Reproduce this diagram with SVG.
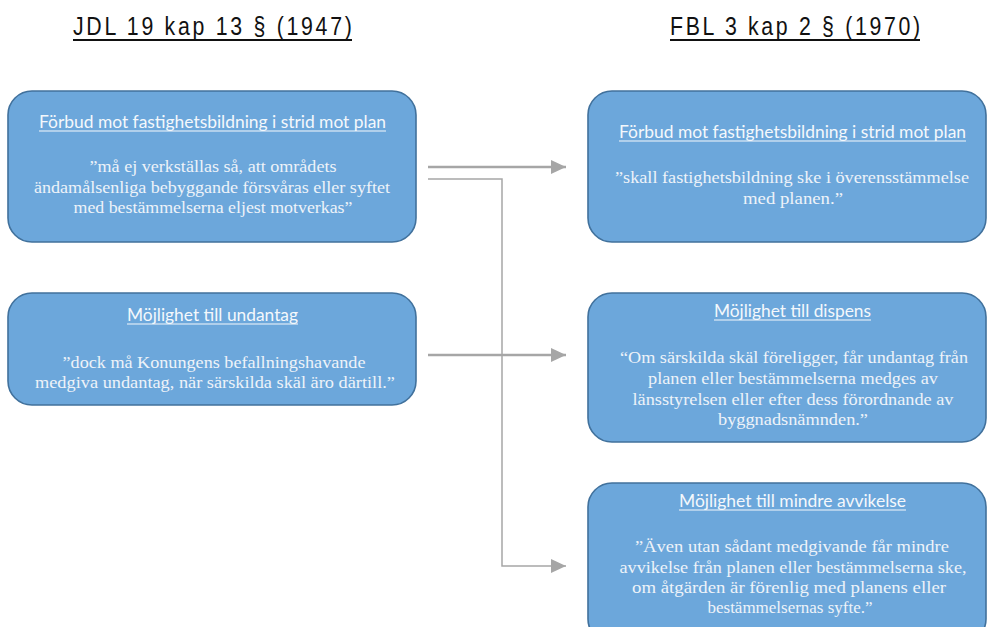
<svg xmlns="http://www.w3.org/2000/svg" width="987" height="627" viewBox="0 0 987 627">
  <style>
    .box { fill: #6ca7db; stroke: #41719c; stroke-width: 1.6; }
    .title { font-family: "Liberation Sans", Arial, sans-serif; font-size: 26px; fill: #111111; }
    .titleline { stroke: #111111; stroke-width: 2; }
    .head { font-family: Lato, "Open Sans", sans-serif; font-size: 17px; fill: #f4f8fc; }
    .headline { stroke: #f4f8fc; stroke-width: 1; }
    .body { font-family: "Liberation Serif", "Times New Roman", serif; font-size: 17px; fill: #eef3f9; text-anchor: middle; }
    .conn { fill: none; stroke: #a6a6a6; }
    .thick { stroke-width: 2.5; }
    .thin { stroke-width: 1.5; }
  </style>
  <defs>
    <marker id="arrow" markerUnits="userSpaceOnUse" markerWidth="15" markerHeight="14" refX="15" refY="7" orient="auto">
      <path d="M0,0 L15,7 L0,14 Z" fill="#a6a6a6"/>
    </marker>
  </defs>

  <rect width="987" height="627" fill="#ffffff"/>

  <!-- column titles -->
  <g id="title-jdl">
    <text class="title" transform="translate(73,35) scale(0.82,1)" textLength="340" lengthAdjust="spacing">JDL 19 kap 13 § (1947)</text>
    <line class="titleline" x1="73" y1="40" x2="352" y2="40"/>
  </g>
  <g id="title-fbl">
    <text class="title" transform="translate(670,35) scale(0.82,1)" textLength="305" lengthAdjust="spacing">FBL 3 kap 2 § (1970)</text>
    <line class="titleline" x1="670" y1="40" x2="920" y2="40"/>
  </g>

  <!-- connectors -->
  <g id="connectors">
    <line class="conn thick" x1="428" y1="167" x2="566" y2="167" marker-end="url(#arrow)"/>
    <line class="conn thick" x1="428" y1="355" x2="566" y2="355" marker-end="url(#arrow)"/>
    <polyline class="conn thin" points="428,179 502,179 502,566 566,566" marker-end="url(#arrow)"/>
  </g>

  <!-- JDL: prohibition -->
  <g id="jdl-forbud">
    <rect class="box" x="8" y="91" width="408" height="151" rx="24"/>
    <text class="head" x="39" y="128" textLength="347" lengthAdjust="spacingAndGlyphs">Förbud mot fastighetsbildning i strid mot plan</text>
    <line class="headline" x1="39" y1="131" x2="386" y2="131"/>
    <text class="body" x="213" y="172" textLength="247" lengthAdjust="spacingAndGlyphs">”må ej verkställas så, att områdets</text>
    <text class="body" x="212" y="193" textLength="356" lengthAdjust="spacingAndGlyphs">ändamålsenliga bebyggande försvåras eller syftet</text>
    <text class="body" x="213" y="213" textLength="279" lengthAdjust="spacingAndGlyphs">med bestämmelserna eljest motverkas”</text>
  </g>

  <!-- JDL: exception -->
  <g id="jdl-undantag">
    <rect class="box" x="8" y="293" width="408" height="112" rx="24"/>
    <text class="head" x="127" y="321" textLength="171" lengthAdjust="spacingAndGlyphs">Möjlighet till undantag</text>
    <line class="headline" x1="127" y1="324" x2="298" y2="324"/>
    <text class="body" x="214" y="368" textLength="303" lengthAdjust="spacingAndGlyphs">”dock må Konungens befallningshavande</text>
    <text class="body" x="215" y="388" textLength="360" lengthAdjust="spacingAndGlyphs">medgiva undantag, när särskilda skäl äro därtill.”</text>
  </g>

  <!-- FBL: prohibition -->
  <g id="fbl-forbud">
    <rect class="box" x="588" y="91" width="398" height="151" rx="24"/>
    <text class="head" x="619" y="138" textLength="347" lengthAdjust="spacingAndGlyphs">Förbud mot fastighetsbildning i strid mot plan</text>
    <line class="headline" x1="619" y1="141" x2="966" y2="141"/>
    <text class="body" x="792" y="183" textLength="354" lengthAdjust="spacingAndGlyphs">”skall fastighetsbildning ske i överensstämmelse</text>
    <text class="body" x="793" y="204" textLength="100" lengthAdjust="spacingAndGlyphs">med planen.”</text>
  </g>

  <!-- FBL: dispensation -->
  <g id="fbl-dispens">
    <rect class="box" x="588" y="293" width="398" height="149" rx="24"/>
    <text class="head" x="714" y="317" textLength="157" lengthAdjust="spacingAndGlyphs">Möjlighet till dispens</text>
    <line class="headline" x1="714" y1="320" x2="871" y2="320"/>
    <text class="body" x="794" y="363" textLength="348" lengthAdjust="spacingAndGlyphs">“Om särskilda skäl föreligger, får undantag från</text>
    <text class="body" x="793" y="384" textLength="290" lengthAdjust="spacingAndGlyphs">planen eller bestämmelserna medges av</text>
    <text class="body" x="793" y="405" textLength="321" lengthAdjust="spacingAndGlyphs">länsstyrelsen eller efter dess förordnande av</text>
    <text class="body" x="793" y="425" textLength="150" lengthAdjust="spacingAndGlyphs">byggnadsnämnden.”</text>
  </g>

  <!-- FBL: minor deviation -->
  <g id="fbl-avvikelse">
    <rect class="box" x="588" y="483" width="398" height="160" rx="24"/>
    <text class="head" x="679" y="507" textLength="227" lengthAdjust="spacingAndGlyphs">Möjlighet till mindre avvikelse</text>
    <line class="headline" x1="679" y1="510" x2="906" y2="510"/>
    <text class="body" x="792" y="552" textLength="314" lengthAdjust="spacingAndGlyphs">”Även utan sådant medgivande får mindre</text>
    <text class="body" x="793" y="573" textLength="347" lengthAdjust="spacingAndGlyphs">avvikelse från planen eller bestämmelserna ske,</text>
    <text class="body" x="789" y="593" textLength="314" lengthAdjust="spacingAndGlyphs">om åtgärden är förenlig med planens eller</text>
    <text class="body" x="790" y="613" textLength="165" lengthAdjust="spacingAndGlyphs">bestämmelsernas syfte.”</text>
  </g>
</svg>
